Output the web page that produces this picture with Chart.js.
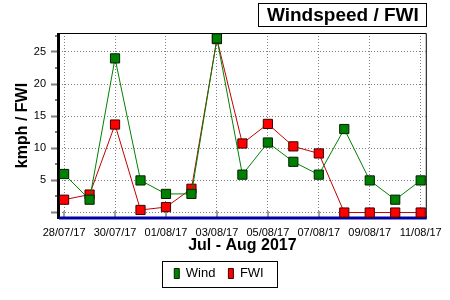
<!DOCTYPE html>
<html>
<head>
<meta charset="utf-8">
<script src="https://cdn.jsdelivr.net/npm/chart.js@4.4.0/dist/chart.umd.min.js"></script>
<style>
  html, body { margin: 0; padding: 0; background: #fff; }
  #wrap { width: 450px; height: 300px; }
</style>
</head>
<body>
<div id="wrap"><canvas id="windChart"></canvas></div>
<script>
// DATA
const days = ['28/07/17', '29/07/17', '30/07/17', '31/07/17', '01/08/17', '02/08/17', '03/08/17',
  '04/08/17', '05/08/17', '06/08/17', '07/08/17', '08/08/17', '09/08/17', '10/08/17', '11/08/17'];
const windData = [6, 2, 24, 5, 2.9, 2.9, 27.1, 5.9, 10.9, 7.9, 5.9, 13, 5, 2, 5];
const fwiData = [2, 2.8, 13.7, 0.4, 0.85, 3.7, 27, 10.75, 13.8, 10.3, 9.2, 0, 0, 0, 0];
const xTickDays = [0, 2, 4, 6, 8, 10, 12, 14];
const yTicks = [0, 5, 10, 15, 20, 25];
const yMinorTicks = [2.5, 7.5, 12.5, 17.5, 22.5, 27.5];
const chartTitle = 'Windspeed / FWI';
const xTitle = 'Jul - Aug 2017';
const yTitle = 'kmph / FWI';

const FONT = '"Liberation Sans", Arial, sans-serif';

// frame, minor ticks, blue baseline
const framePlugin = {
  id: 'frame',
  beforeDatasetsDraw(chart) {
    const { ctx, chartArea: a, scales: { x, y } } = chart;
    ctx.save();
    ctx.strokeStyle = '#808080';
    ctx.lineWidth = 2;
    yMinorTicks.forEach(v => {
      const py = Math.round(y.getPixelForValue(v));
      ctx.beginPath();
      ctx.moveTo(a.left - 4, py);
      ctx.lineTo(a.left, py);
      ctx.stroke();
    });
    ctx.strokeStyle = '#a0a0a0';
    xTickDays.forEach(v => {
      const px = Math.round(x.getPixelForValue(v));
      ctx.beginPath();
      ctx.moveTo(px, a.bottom - 7);
      ctx.lineTo(px, a.bottom);
      ctx.stroke();
    });
    ctx.strokeStyle = '#000';
    ctx.lineWidth = 1;
    ctx.beginPath();
    ctx.moveTo(a.left, a.top + 0.5);
    ctx.lineTo(a.right + 0.5, a.top + 0.5);
    ctx.lineTo(a.right + 0.5, a.bottom);
    ctx.stroke();
    ctx.lineWidth = 3;
    ctx.beginPath();
    ctx.moveTo(a.left - 0.5, a.top);
    ctx.lineTo(a.left - 0.5, a.bottom + 1);
    ctx.stroke();
    ctx.strokeStyle = '#0000a8';
    ctx.beginPath();
    ctx.moveTo(a.left, a.bottom);
    ctx.lineTo(a.right + 1, a.bottom);
    ctx.stroke();
    ctx.restore();
  }
};

// boxed title top right, and a box round the legend
const boxesPlugin = {
  id: 'boxes',
  afterDraw(chart) {
    const { ctx, chartArea: a } = chart;
    ctx.save();
    ctx.font = 'bold 19px ' + FONT;
    ctx.fillStyle = '#000';
    ctx.textAlign = 'right';
    ctx.textBaseline = 'middle';
    const textRight = a.right - 7;
    const w = ctx.measureText(chartTitle).width;
    ctx.fillText(chartTitle, textRight, 16);
    ctx.strokeStyle = '#000';
    ctx.lineWidth = 1;
    ctx.strokeRect(Math.round(textRight - w - 9) + 0.5, 3.5, Math.round(a.right - (textRight - w - 9)), 23);

    const hb = chart.legend.legendHitBoxes;
    if (hb && hb.length) {
      const l = hb[0].left - 12;
      const r = hb[hb.length - 1].left + hb[hb.length - 1].width + 14;
      const t = hb[0].top - 6;
      const b = hb[0].top + hb[0].height + 7;
      ctx.strokeRect(Math.round(l) + 0.5, Math.round(t) + 0.5, Math.round(r - l), Math.round(b - t));
    }
    ctx.restore();
  }
};

const toPoints = arr => arr.map((v, i) => ({ x: i, y: v }));

new Chart(document.getElementById('windChart'), {
  type: 'line',
  data: {
    datasets: [{
      label: 'Wind',
      data: toPoints(windData),
      borderColor: '#008000',
      backgroundColor: '#008000',
      pointBorderColor: '#002000',
      pointBackgroundColor: '#008000',
      borderWidth: 1,
      pointStyle: 'rect',
      pointRadius: 6.5,
      pointBorderWidth: 1,
      tension: 0,
      clip: false
    }, {
      label: 'FWI',
      data: toPoints(fwiData),
      borderColor: '#c00000',
      backgroundColor: '#ff0000',
      pointBorderColor: '#400000',
      pointBackgroundColor: '#ff0000',
      borderWidth: 1,
      pointStyle: 'rect',
      pointRadius: 6.5,
      pointBorderWidth: 1,
      tension: 0,
      clip: false
    }]
  },
  options: {
    responsive: true,
    maintainAspectRatio: false,
    animation: false,
    layout: { padding: { top: 33, right: 22, left: 10, bottom: 10 } },
    plugins: {
      title: { display: false },
      tooltip: { enabled: false },
      legend: {
        position: 'bottom',
        labels: {
          boxWidth: 5,
          boxHeight: 10,
          padding: 13,
          color: '#000',
          font: { family: FONT, size: 13 },
          generateLabels(chart) {
            return chart.data.datasets.map((ds, i) => ({
              text: ds.label,
              fillStyle: ds.pointBackgroundColor,
              strokeStyle: ds.pointBorderColor,
              lineWidth: 1,
              datasetIndex: i
            }));
          }
        }
      }
    },
    scales: {
      x: {
        type: 'linear',
        min: -0.2,
        max: 14.2,
        afterBuildTicks: s => { s.ticks = xTickDays.map(v => ({ value: v })); },
        afterFit: s => { s.height = 36; },
        grid: { color: '#808080', drawTicks: false },
        border: { display: false, dash: [1, 2] },
        ticks: {
          padding: 8,
          maxRotation: 0,
          autoSkip: false,
          color: '#000',
          font: { family: FONT, size: 11 },
          callback: v => days[v]
        },
        title: {
          display: true,
          text: xTitle,
          color: '#000',
          font: { family: FONT, size: 16, weight: 'bold', lineHeight: 1 },
          padding: { top: 0, bottom: 0 }
        }
      },
      y: {
        min: -0.85,
        max: 27.95,
        afterBuildTicks: s => { s.ticks = yTicks.map(v => ({ value: v })); },
        afterFit: s => { s.width = 49; },
        grid: { color: '#808080', tickColor: '#808080', tickLength: 8, tickWidth: 2, tickBorderDash: [] },
        border: { display: false, dash: [1, 2] },
        ticks: {
          padding: 5,
          color: '#000',
          font: { family: FONT, size: 11 },
          callback: v => (v === 0 ? '' : v)
        },
        title: {
          display: true,
          text: yTitle,
          color: '#000',
          font: { family: FONT, size: 16, weight: 'bold' },
          padding: { top: 3, bottom: 0 }
        }
      }
    }
  },
  plugins: [framePlugin, boxesPlugin]
});
</script>
</body>
</html>
